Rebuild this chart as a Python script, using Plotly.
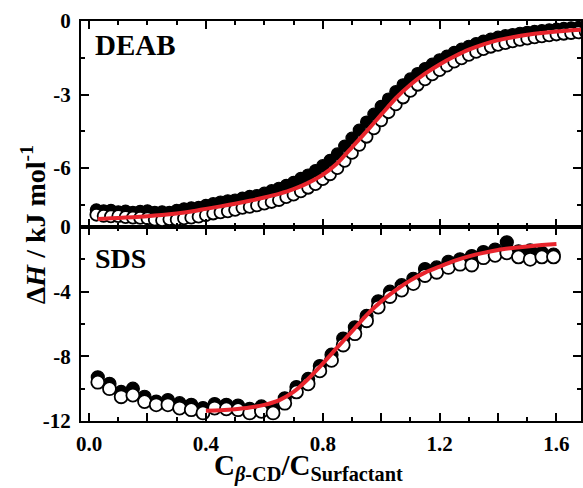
import plotly.graph_objects as go

# ---------------- data ----------------
deab_x = [0.025, 0.050, 0.075, 0.100, 0.125, 0.150, 0.175, 0.200, 0.225, 0.250,
          0.275, 0.300, 0.325, 0.350, 0.375, 0.400, 0.425, 0.450, 0.475, 0.500,
          0.525, 0.550, 0.575, 0.600, 0.625, 0.650, 0.675, 0.700, 0.725, 0.750,
          0.775, 0.800, 0.825, 0.850, 0.875, 0.900, 0.925, 0.950, 0.975, 1.000,
          1.025, 1.050, 1.075, 1.100, 1.125, 1.150, 1.175, 1.200, 1.225, 1.250,
          1.275, 1.300, 1.325, 1.350, 1.375, 1.400, 1.425, 1.450, 1.475, 1.500,
          1.525, 1.550, 1.575, 1.600, 1.625, 1.650, 1.675, 1.700]
deab_filled = [-7.70, -7.74, -7.72, -7.78, -7.75, -7.80, -7.76, -7.74, -7.80, -7.78,
               -7.80, -7.72, -7.66, -7.62, -7.60, -7.52, -7.45, -7.38, -7.33, -7.30,
               -7.22, -7.15, -7.12, -7.02, -6.92, -6.82, -6.70, -6.58, -6.42, -6.28,
               -6.10, -5.90, -5.68, -5.42, -5.10, -4.78, -4.45, -4.12, -3.80, -3.48,
               -3.18, -2.88, -2.60, -2.36, -2.14, -1.94, -1.76, -1.58, -1.43, -1.28,
               -1.15, -1.03, -0.92, -0.82, -0.74, -0.66, -0.60, -0.55, -0.50, -0.46,
               -0.42, -0.39, -0.36, -0.33, -0.30, -0.28, -0.26, -0.24]
deab_open = [-7.90, -7.95, -7.97, -7.96, -8.00, -8.02, -8.03, -8.05, -8.10, -8.12,
             -8.08, -8.10, -8.05, -8.02, -7.98, -7.92, -7.85, -7.80, -7.76, -7.70,
             -7.62, -7.58, -7.52, -7.45, -7.38, -7.30, -7.18, -7.08, -6.95, -6.80,
             -6.65, -6.45, -6.25, -6.00, -5.70, -5.38, -5.05, -4.72, -4.38, -4.05,
             -3.72, -3.40, -3.12, -2.85, -2.60, -2.38, -2.18, -2.00, -1.82, -1.66,
             -1.52, -1.38, -1.26, -1.15, -1.05, -0.97, -0.90, -0.83, -0.77, -0.72,
             -0.67, -0.63, -0.59, -0.55, -0.52, -0.49, -0.46, -0.44]
deab_fit_x = [0.03, 0.05, 0.10, 0.15, 0.20, 0.25, 0.30, 0.35, 0.40, 0.45, 0.50, 0.55,
              0.60, 0.65, 0.70, 0.75, 0.80, 0.85, 0.90, 0.95, 1.00, 1.05, 1.10, 1.15,
              1.20, 1.25, 1.30, 1.35, 1.40, 1.45, 1.50, 1.55, 1.60, 1.65, 1.70]
deab_fit_y = [-8.07, -8.06, -8.03, -8.00, -7.96, -7.91, -7.85, -7.77, -7.66, -7.56, -7.45, -7.33,
              -7.20, -7.05, -6.86, -6.60, -6.27, -5.80, -5.15, -4.50, -3.82, -3.15, -2.60, -2.15,
              -1.77, -1.45, -1.17, -0.95, -0.78, -0.66, -0.56, -0.49, -0.43, -0.38, -0.34]

sds_x = [0.03, 0.07, 0.11, 0.15, 0.19, 0.23, 0.27, 0.31, 0.35, 0.39,
         0.43, 0.47, 0.51, 0.55, 0.59, 0.63, 0.67, 0.71, 0.75, 0.79,
         0.83, 0.87, 0.91, 0.95, 0.99, 1.03, 1.07, 1.11, 1.15, 1.19,
         1.23, 1.27, 1.31, 1.35, 1.39, 1.43, 1.47, 1.51, 1.55, 1.59]
sds_filled = [-9.3, -9.7, -10.2, -10.0, -10.5, -10.8, -10.7, -10.9, -11.0, -11.2,
              -10.95, -11.0, -11.05, -11.25, -11.1, -11.25, -10.6, -9.9, -9.4, -8.6,
              -7.9, -6.9, -6.2, -5.5, -4.6, -4.0, -3.6, -3.2, -2.6, -2.5,
              -2.15, -2.0, -1.8, -1.55, -1.4, -0.95, -1.5, -1.45, -1.6, -1.7]
sds_open = [-9.6, -10.0, -10.5, -10.4, -10.8, -11.0, -11.0, -11.2, -11.3, -11.5,
            -11.2, -11.25, -11.3, -11.5, -11.4, -11.5, -10.9, -10.2, -9.7, -8.9,
            -8.25, -7.3, -6.6, -5.8, -4.95, -4.3, -3.9, -3.5, -3.0, -2.8,
            -2.5, -2.3, -2.35, -1.9, -1.75, -1.6, -1.85, -2.0, -1.85, -1.85]
sds_fit_x = [0.40, 0.45, 0.50, 0.55, 0.60, 0.65, 0.70, 0.75, 0.80, 0.85, 0.90, 0.95, 1.00,
             1.05, 1.10, 1.15, 1.20, 1.25, 1.30, 1.35, 1.40, 1.45, 1.50, 1.55, 1.60]
sds_fit_y = [-11.36, -11.33, -11.27, -11.17, -11.0, -10.72, -10.2, -9.4, -8.45, -7.45, -6.46, -5.45, -4.6,
             -3.9, -3.3, -2.82, -2.45, -2.1, -1.82, -1.6, -1.42, -1.3, -1.2, -1.12, -1.05]

x_tickvals = [0.0, 0.2, 0.4, 0.6, 0.8, 1.0, 1.2, 1.4, 1.6]
x_ticktext = ["0.0", "", "0.4", "", "0.8", "", "1.2", "", "1.6"]
deab_tickvals = [0, -3, -6]
deab_ticktext = ["0", "-3", "-6"]
sds_tickvals = [0, -4, -8, -12]
sds_ticktext = ["0", "-4", "-8", "-12"]

# ---------------- figure ----------------
FONT = "Liberation Serif, Times New Roman, serif"
RED = "#e8242c"

fig = go.Figure()

def add_panel(xs, yf, yo, fx, fy, xa, ya, ms):
    fig.add_trace(go.Scatter(x=xs, y=yf, mode="markers", xaxis=xa, yaxis=ya,
                             marker=dict(size=ms, color="black", line=dict(color="black", width=1.2)),
                             showlegend=False))
    fig.add_trace(go.Scatter(x=xs, y=yo, mode="markers", xaxis=xa, yaxis=ya,
                             marker=dict(size=ms, color="white", line=dict(color="black", width=1.8)),
                             showlegend=False))
    fig.add_trace(go.Scatter(x=fx, y=fy, mode="lines", xaxis=xa, yaxis=ya,
                             line=dict(color=RED, width=4, shape="spline", smoothing=0.6),
                             showlegend=False))

add_panel(deab_x, deab_filled, deab_open, deab_fit_x, deab_fit_y, "x2", "y2", 12)
add_panel(sds_x, sds_filled, sds_open, sds_fit_x, sds_fit_y, "x", "y", 13)

tickfont = dict(family=FONT, size=21, color="black", weight="bold")
common_x = dict(range=[-0.0275, 1.684], showline=True, linewidth=2, linecolor="black",
                mirror="ticks", ticks="inside", ticklen=8, tickwidth=2, tickcolor="black",
                tickvals=x_tickvals, ticktext=x_ticktext, tickfont=tickfont, ticklabelstandoff=3,
                minor=dict(ticks="inside", dtick=0.1, tick0=0, ticklen=4, tickwidth=2, tickcolor="black"),
                showgrid=False, zeroline=False)
common_y = dict(showline=True, linewidth=2, linecolor="black", mirror="ticks",
                ticks="inside", ticklen=8, tickwidth=2, tickcolor="black",
                tickfont=tickfont, showgrid=False, zeroline=False, ticklabelstandoff=4)

split = 0.485
fig.update_layout(
    width=583, height=488,
    margin=dict(l=81, r=0, t=21, b=67),
    paper_bgcolor="white", plot_bgcolor="white",
    xaxis=dict(common_x, domain=[0, 1], anchor="y"),
    yaxis=dict(common_y, domain=[0, split], anchor="x", range=[-12, 0],
               tickvals=sds_tickvals, ticktext=sds_ticktext,
               minor=dict(ticks="inside", dtick=2, tick0=0, ticklen=4, tickwidth=2, tickcolor="black")),
    xaxis2=dict(common_x, domain=[0, 1], anchor="y2", matches="x", showticklabels=False),
    yaxis2=dict(common_y, domain=[split, 1], anchor="x2", range=[-8.4, 0],
                tickvals=deab_tickvals, ticktext=deab_ticktext,
                minor=dict(ticks="inside", dtick=1.5, tick0=0, ticklen=4, tickwidth=2, tickcolor="black")),
    annotations=[
        dict(text="DEAB", xref="paper", yref="paper", x=0.024, y=0.941, xanchor="left", yanchor="middle",
             showarrow=False, font=dict(family=FONT, size=29, color="black", weight="bold")),
        dict(text="SDS", xref="paper", yref="paper", x=0.024, y=0.406, xanchor="left", yanchor="middle",
             showarrow=False, font=dict(family=FONT, size=28, color="black", weight="bold")),
        dict(text="Δ<i>H</i> / kJ mol<sup>-1</sup>", xref="paper", yref="paper", x=-0.0956, y=0.49,
             xanchor="center", yanchor="middle", textangle=-90, showarrow=False,
             font=dict(family=FONT, size=28, color="black", weight="bold")),
        dict(text="C<sub><i>β</i>-CD</sub>/C<sub>Surfactant</sub>", xref="paper", yref="paper",
             x=0.455, y=-0.115, xanchor="center", yanchor="middle", showarrow=False,
             font=dict(family=FONT, size=29, color="black", weight="bold")),
    ],
)

fig.write_html("out.html")
